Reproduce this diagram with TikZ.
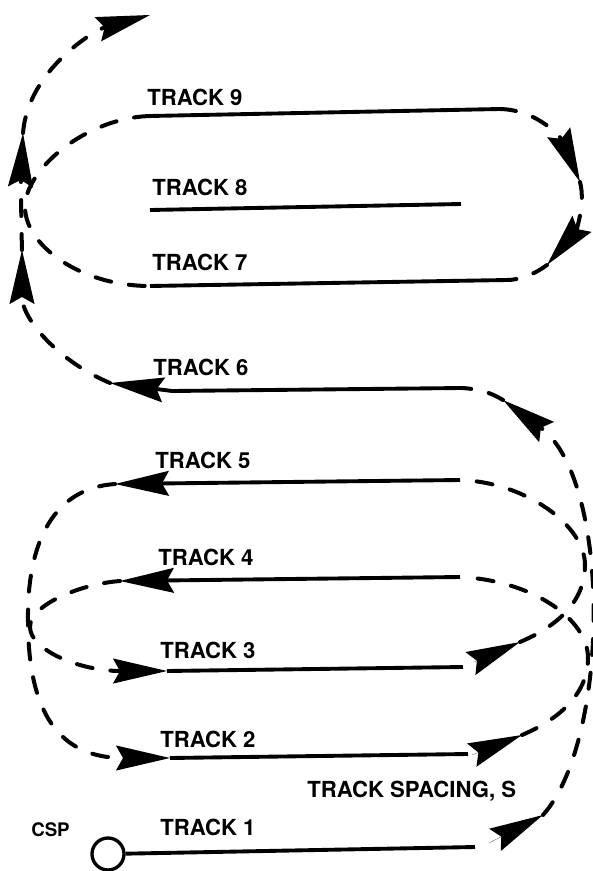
\documentclass[tikz,border=0pt]{standalone}
\usepackage{fontspec}
\setmainfont{TeX Gyre Heros}
\usetikzlibrary{arrows.meta}

\begin{document}
\begin{tikzpicture}[x=1in,y=1in,
  trackline/.style={line width=2.8pt},
  dashline/.style={line width=2.9pt, dash pattern=on 0.16in off 0.18in, line cap=round},
  bigtip/.tip={Stealth[length=0.54in,width=0.25in,inset=0.07in,line width=1pt]},
  headonly/.style={line width=0.1pt, -{bigtip}},
  lbl/.style={font=\fontsize{16}{19}\selectfont\bfseries, inner sep=0pt, anchor=base west}]
\useasboundingbox (0,-8.71) rectangle (5.93,0);
\coordinate (t9l) at (1.50,-1.16);
\coordinate (t9r) at (5.00,-1.09);
\coordinate (t8l) at (1.50,-2.10);
\coordinate (t8r) at (4.61,-2.04);
\coordinate (t7l) at (1.50,-2.86);
\coordinate (t7r) at (5.07,-2.80);
\coordinate (t6r) at (4.62,-3.88);
\coordinate (t6k) at (1.72,-3.91);
\coordinate (t6l) at (1.10,-3.83);
\coordinate (t5r) at (4.60,-4.80);
\coordinate (t5l) at (1.15,-4.84);
\coordinate (t4r) at (4.60,-5.77);
\coordinate (t4l) at (1.20,-5.81);
\coordinate (t3l) at (1.67,-6.71);
\coordinate (t3r) at (4.63,-6.67);
\coordinate (t3b) at (4.74,-6.62);
\coordinate (t3a) at (5.20,-6.42);
\coordinate (t2l) at (1.70,-7.58);
\coordinate (t2r) at (4.68,-7.54);
\coordinate (t2b) at (4.72,-7.55);
\coordinate (t2a) at (5.22,-7.35);
\coordinate (t1r) at (4.75,-8.47);
\coordinate (t1b) at (4.89,-8.43);
\coordinate (t1a) at (5.43,-8.15);
\coordinate (k1) at (0.22,-2.50);
\coordinate (k2) at (0.23,-1.33);
\coordinate (k3) at (1.50,-0.15);
\coordinate (m1) at (5.80,-1.82);
\coordinate (m2) at (5.47,-2.65);
\coordinate (m3) at (5.03,-4.00);
\node[draw, circle, line width=2.4pt, minimum size=0.32in, inner sep=0pt] (csp) at (1.08,-8.54) {};
\draw[trackline] (t9l) -- (t9r);
\draw[trackline] (t8l) -- (t8r);
\draw[trackline] (t7l) -- (t7r);
\draw[trackline,-{bigtip}] (t6r) -- (t6k) -- (t6l);
\draw[trackline,-{bigtip}] (t5r) -- (t5l);
\draw[trackline,-{bigtip}] (t4r) -- (t4l);
\draw[trackline] (t3l) -- (t3r);
\draw[trackline] (t2l) -- (t2r);
\draw[trackline] (csp) -- (t1r);
\draw[headonly] (t3b) -- (t3a);
\draw[headonly] (t2b) -- (t2a);
\draw[headonly] (t1b) -- (t1a);
\draw[dashline] (t9l) .. controls (0.85,-1.18) and (0.25,-1.70) .. (0.25,-2.07) .. controls (0.25,-2.45) and (0.80,-2.86) .. (t7l);
\draw[dashline,-{bigtip}] (t6l) .. controls (0.60,-3.62) and (0.22,-3.20) .. (k1);
\draw[dashline,-{bigtip}] (k1) .. controls (0.21,-2.15) and (0.21,-1.75) .. (k2);
\draw[dashline,-{bigtip}] (k2) .. controls (0.28,-0.70) and (0.95,-0.30) .. (k3);
\draw[dashline,-{bigtip}] (t9r) .. controls (5.40,-1.10) and (5.62,-1.40) .. (m1);
\draw[dashline,-{bigtip}] (m1) .. controls (5.86,-2.05) and (5.75,-2.32) .. (m2);
\draw[dashline] (m2) .. controls (5.35,-2.74) and (5.20,-2.80) .. (t7r);
\draw[dashline,-{bigtip}] (t1a) .. controls (6.10,-7.40) and (6.12,-4.80) .. (m3);
\draw[dashline] (m3) .. controls (4.90,-3.92) and (4.78,-3.89) .. (t6r);
\draw[dashline] (t3a) .. controls (5.60,-6.25) and (5.85,-6.00) .. (5.85,-5.65) .. controls (5.85,-5.25) and (5.25,-4.82) .. (t5r);
\draw[dashline] (t2a) .. controls (5.62,-7.18) and (5.88,-6.92) .. (5.88,-6.58) .. controls (5.88,-6.18) and (5.30,-5.80) .. (t4r);
\draw[dashline,-{bigtip}] (t5l) .. controls (0.55,-4.88) and (0.27,-5.40) .. (0.28,-6.20) .. controls (0.28,-6.90) and (0.45,-7.58) .. (t2l);
\draw[dashline,-{bigtip}] (t4l) .. controls (0.80,-5.84) and (0.30,-6.05) .. (0.30,-6.27) .. controls (0.30,-6.50) and (0.80,-6.71) .. (t3l);
\node[lbl] (lbl9) at (1.47,-1.05) {TRACK 9};
\node[lbl] (lbl8) at (1.52,-1.95) {TRACK 8};
\node[lbl] (lbl7) at (1.52,-2.70) {TRACK 7};
\node[lbl] (lbl6) at (1.53,-3.75) {TRACK 6};
\node[lbl] (lbl5) at (1.55,-4.68) {TRACK 5};
\node[lbl] (lbl4) at (1.58,-5.65) {TRACK 4};
\node[lbl] (lbl3) at (1.60,-6.58) {TRACK 3};
\node[lbl] (lbl2) at (1.60,-7.47) {TRACK 2};
\node[lbl] (lbl1) at (1.60,-8.35) {TRACK 1};
\node[lbl, font=\fontsize{13.5}{16}\selectfont\bfseries] (cspl) at (0.31,-8.36) {CSP};
\node[lbl] (spacing) at (3.07,-7.97) {TRACK SPACING, S};
\end{tikzpicture}
\end{document}
